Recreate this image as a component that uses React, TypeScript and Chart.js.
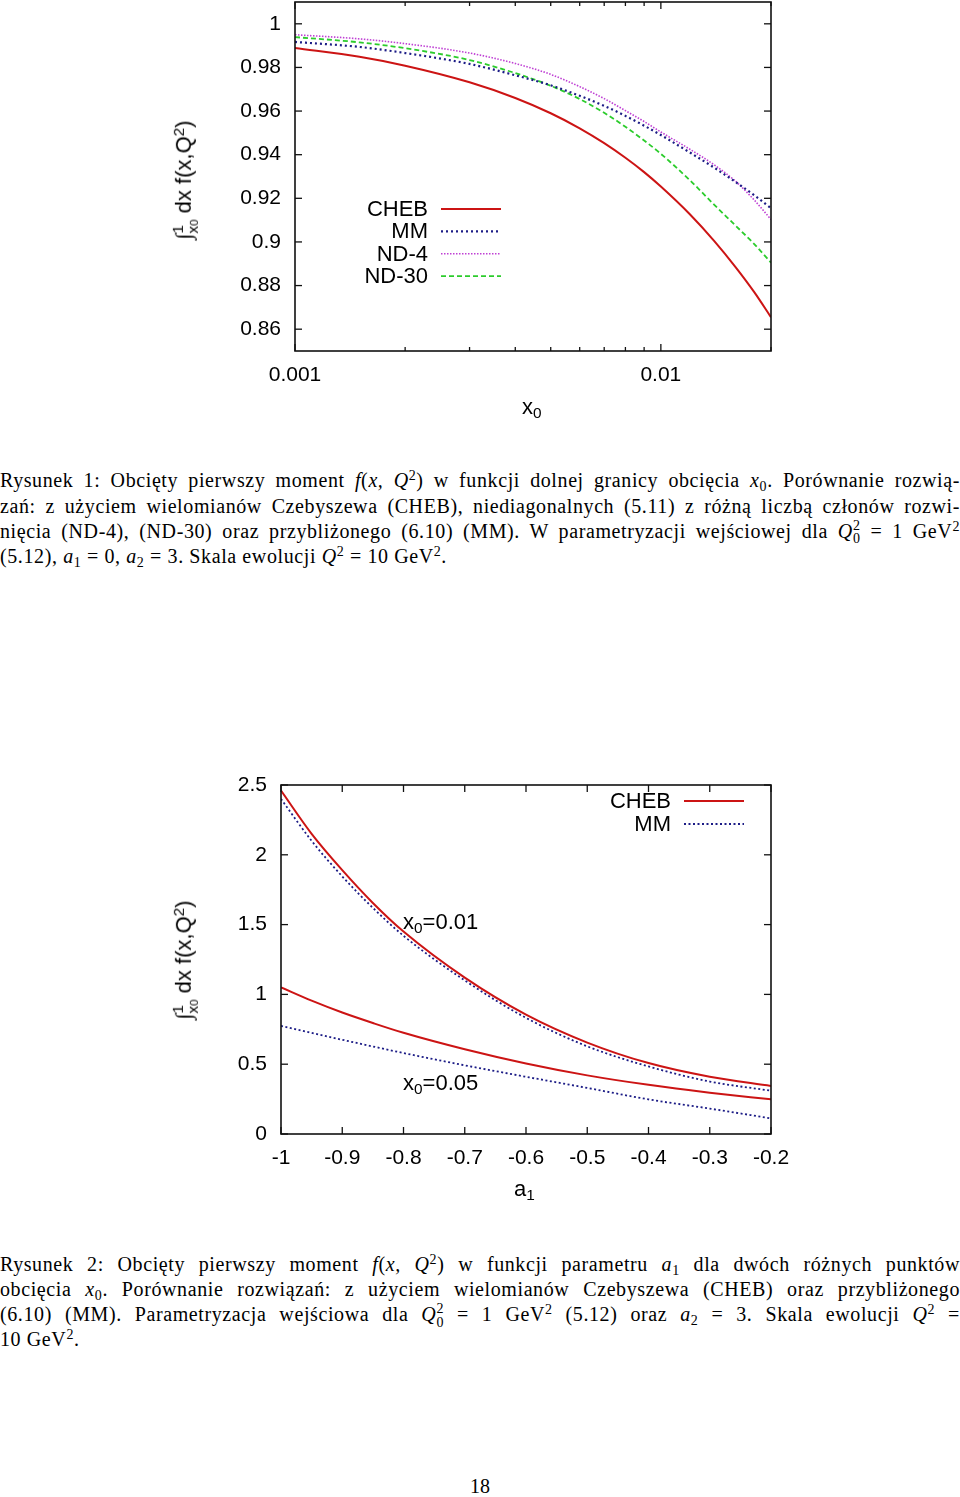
import React, { useEffect, useRef } from 'react';
import Chart from 'chart.js/auto';

// ---------- Figure 1 data ----------
const fig1X = [0.001, 0.0015, 0.002, 0.003, 0.004, 0.005, 0.006, 0.007, 0.008, 0.009, 0.01, 0.012, 0.014, 0.016, 0.018, 0.02];
const fig1Cheb = [0.9889, 0.9849, 0.9808, 0.9732, 0.966, 0.959, 0.9521, 0.9453, 0.9386, 0.932, 0.9254, 0.9127, 0.9004, 0.8885, 0.877, 0.8655];
const fig1MM = [0.9917, 0.9894, 0.9866, 0.9816, 0.9764, 0.9718, 0.967, 0.9624, 0.9578, 0.9533, 0.949, 0.941, 0.934, 0.9275, 0.9214, 0.9155];
const fig1ND4 = [0.995, 0.9931, 0.9909, 0.9866, 0.9818, 0.9768, 0.9712, 0.9657, 0.9602, 0.9552, 0.9504, 0.9425, 0.9353, 0.9278, 0.9192, 0.9103];
const fig1ND30 = [0.9939, 0.9915, 0.9888, 0.9834, 0.9774, 0.9716, 0.9655, 0.9592, 0.9528, 0.9465, 0.9404, 0.9283, 0.917, 0.9075, 0.899, 0.8905];
const fig1SeriesNames = ['CHEB', 'MM', 'ND-4', 'ND-30'];
const fig1XTicks = [0.001, 0.002, 0.003, 0.004, 0.005, 0.006, 0.007, 0.008, 0.009, 0.01, 0.02];
const fig1XMajor = [0.001, 0.01];
const fig1XLabels = ['0.001', '0.01'];
const fig1YTicks = [0.86, 0.88, 0.9, 0.92, 0.94, 0.96, 0.98, 1];
const fig1YLabels = ['0.86', '0.88', '0.9', '0.92', '0.94', '0.96', '0.98', '1'];

// ---------- Figure 2 data ----------
const fig2X = [-1, -0.95, -0.9, -0.85, -0.8, -0.7, -0.6, -0.5, -0.4, -0.3, -0.2];
const fig2Cheb001 = [2.46, 2.15, 1.89, 1.655, 1.45, 1.12, 0.855, 0.655, 0.508, 0.41, 0.344];
const fig2MM001 = [2.4, 2.1, 1.845, 1.62, 1.42, 1.1, 0.832, 0.628, 0.484, 0.376, 0.31];
const fig2Cheb005 = [1.05, 0.955, 0.87, 0.795, 0.725, 0.607, 0.505, 0.42, 0.352, 0.296, 0.248];
const fig2MM005 = [0.775, 0.725, 0.675, 0.627, 0.58, 0.492, 0.41, 0.33, 0.248, 0.182, 0.112];
const fig2SeriesNames = ['CHEB', 'MM'];
const fig2XTicks = [-1, -0.9, -0.8, -0.7, -0.6, -0.5, -0.4, -0.3, -0.2];
const fig2XLabels = ['-1', '-0.9', '-0.8', '-0.7', '-0.6', '-0.5', '-0.4', '-0.3', '-0.2'];
const fig2YTicks = [0, 0.5, 1, 1.5, 2, 2.5];
const fig2YLabels = ['0', '0.5', '1', '1.5', '2', '2.5'];

const RED = '#cc1414';
const BLUE = '#1c1c86';
const MAGENTA = '#bf40d4';
const GREEN = '#2ccc2c';
const SANS = '"Liberation Sans", Arial, sans-serif';
const SERIF = '"Liberation Serif", "Times New Roman", serif';

const pts = (xs: number[], ys: number[]) => xs.map((x, i) => ({ x, y: ys[i] }));

const frameTicks = {
  id: 'frameTicks',
  afterDatasetsDraw(chart: any, _args: any, opts: any) {
    const { ctx, chartArea, scales } = chart;
    const { left, right, top, bottom } = chartArea;
    ctx.save();
    ctx.strokeStyle = '#111';
    ctx.lineWidth = 1.3;
    ctx.setLineDash([]);
    const seg = (x0: number, y0: number, x1: number, y1: number) => {
      ctx.beginPath();
      ctx.moveTo(x0, y0);
      ctx.lineTo(x1, y1);
      ctx.stroke();
    };
    scales.x.ticks.forEach((t: any) => {
      const px = scales.x.getPixelForValue(t.value);
      let len = opts.major;
      if (opts.logX) {
        const l = Math.log10(t.value);
        len = Math.abs(l - Math.round(l)) < 1e-9 ? opts.major : opts.minor;
      }
      seg(px, bottom, px, bottom - len);
      seg(px, top, px, top + len);
    });
    scales.y.ticks.forEach((t: any) => {
      const py = scales.y.getPixelForValue(t.value);
      seg(left, py, left + opts.major, py);
      seg(right, py, right - opts.major, py);
    });
    ctx.lineWidth = 1.6;
    ctx.strokeRect(left, top, right - left, bottom - top);
    ctx.restore();
  },
};

const gpLegend = {
  id: 'gpLegend',
  afterDatasetsDraw(chart: any, _args: any, opts: any) {
    const { ctx } = chart;
    ctx.save();
    ctx.font = opts.font;
    ctx.textAlign = 'right';
    ctx.textBaseline = 'middle';
    ctx.fillStyle = '#000';
    for (let i = 0; i < opts.count; i++) {
      const ds = chart.data.datasets[i];
      const y = opts.y + i * opts.dy;
      ctx.fillText(ds.label, opts.textRight, y + 1);
      ctx.strokeStyle = ds.borderColor;
      ctx.lineWidth = ds.borderWidth;
      ctx.setLineDash(ds.borderDash || []);
      ctx.beginPath();
      ctx.moveTo(opts.x0, y);
      ctx.lineTo(opts.x1, y);
      ctx.stroke();
      ctx.setLineDash([]);
    }
    ctx.restore();
  },
};

const tickFont = { family: SANS, size: 21 };

function Sup({ children }: any) {
  return <sup style={{ fontSize: '0.7em', lineHeight: 0, verticalAlign: '0.5em' }}>{children}</sup>;
}
function Sub({ children }: any) {
  return <sub style={{ fontSize: '0.7em', lineHeight: 0, verticalAlign: '-0.25em' }}>{children}</sub>;
}
function SupSub({ sup, sub }: any) {
  return (
    <span style={{ display: 'inline-flex', flexDirection: 'column', fontSize: '0.7em', lineHeight: '0.95em', verticalAlign: '0.55em' }}>
      <span>{sup}</span>
      <span>{sub}</span>
    </span>
  );
}

function CapLine({ top, justify = true, children }: any) {
  return (
    <div
      style={{
        position: 'absolute',
        left: 0,
        top,
        width: 960,
        height: 25,
        lineHeight: '25px',
        fontFamily: SERIF,
        fontSize: 20,
        letterSpacing: '0.6px',
        color: '#000',
        textAlign: justify ? 'justify' : 'left',
        textAlignLast: justify ? 'justify' : 'left',
      } as any}
    >
      {children}
    </div>
  );
}

function YTitle({ cx, cy }: any) {
  return (
    <div
      style={{
        position: 'absolute',
        left: cx,
        top: cy,
        transform: 'translate(-50%, -50%) rotate(-90deg)',
        whiteSpace: 'nowrap',
        fontFamily: SANS,
        fontSize: 22,
        lineHeight: '26px',
        color: '#000',
      }}
    >
      <span style={{ fontFamily: SERIF }}>∫</span>
      <SupSub sup="1" sub={<span>x<span style={{ fontSize: '0.75em' }}>0</span></span>} /> dx f(x,Q<Sup>2</Sup>)
    </div>
  );
}

function Label({ left, top, children, size = 22 }: any) {
  return (
    <div style={{ position: 'absolute', left, top, whiteSpace: 'nowrap', fontFamily: SANS, fontSize: size, lineHeight: '26px', color: '#000' }}>
      {children}
    </div>
  );
}

const yFit = (w: number) => (s: any) => {
  s.width = w;
  s.paddingTop = 0;
  s.paddingBottom = 0;
};
const xFit = (h: number) => (s: any) => {
  s.height = h;
  s.paddingLeft = 0;
  s.paddingRight = 0;
};

export default function App() {
  const c1 = useRef<HTMLCanvasElement>(null);
  const c2 = useRef<HTMLCanvasElement>(null);

  useEffect(() => {
    const ch1 = new Chart(c1.current as HTMLCanvasElement, {
      type: 'line',
      data: {
        datasets: [
          { label: fig1SeriesNames[0], data: pts(fig1X, fig1Cheb), borderColor: RED, borderWidth: 2, borderDash: [] },
          { label: fig1SeriesNames[1], data: pts(fig1X, fig1MM), borderColor: BLUE, borderWidth: 2.2, borderDash: [2, 3] },
          { label: fig1SeriesNames[2], data: pts(fig1X, fig1ND4), borderColor: MAGENTA, borderWidth: 1.6, borderDash: [1.5, 1.5] },
          { label: fig1SeriesNames[3], data: pts(fig1X, fig1ND30), borderColor: GREEN, borderWidth: 1.8, borderDash: [5, 3] },
        ] as any,
      },
      options: {
        responsive: false,
        animation: false,
        devicePixelRatio: 1,
        layout: { padding: { top: 2, right: 960 - 771, left: 0, bottom: 0 } },
        elements: { point: { radius: 0 }, line: { cubicInterpolationMode: 'monotone', borderCapStyle: 'butt' } },
        plugins: {
          legend: { display: false },
          tooltip: { enabled: false },
          frameTicks: { major: 7, minor: 4, logX: true },
          gpLegend: { font: `22px ${SANS}`, count: 4, textRight: 428, y: 209, dy: 22.4, x0: 441, x1: 501 },
        } as any,
        scales: {
          x: {
            type: 'logarithmic',
            min: 0.001,
            max: 0.02,
            grid: { display: false, drawTicks: false },
            border: { display: false },
            afterBuildTicks: (s: any) => { s.ticks = fig1XTicks.map((v) => ({ value: v })); },
            afterFit: xFit(440 - 351),
            ticks: {
              autoSkip: false,
              maxRotation: 0,
              padding: 12,
              color: '#000',
              font: tickFont,
              callback: (v: any) => {
                const i = fig1XMajor.indexOf(v);
                return i >= 0 ? fig1XLabels[i] : '';
              },
            },
          },
          y: {
            type: 'linear',
            min: 0.85,
            max: 1.01,
            grid: { display: false, drawTicks: false },
            border: { display: false },
            afterBuildTicks: (s: any) => { s.ticks = fig1YTicks.map((v) => ({ value: v })); },
            afterFit: yFit(295),
            ticks: {
              padding: 14,
              color: '#000',
              font: tickFont,
              callback: (v: any) => {
                const i = fig1YTicks.indexOf(v);
                return i >= 0 ? fig1YLabels[i] : '';
              },
            },
          },
        },
      } as any,
      plugins: [frameTicks, gpLegend],
    });

    const ch2 = new Chart(c2.current as HTMLCanvasElement, {
      type: 'line',
      data: {
        datasets: [
          { label: fig2SeriesNames[0], data: pts(fig2X, fig2Cheb001), borderColor: RED, borderWidth: 2, borderDash: [] },
          { label: fig2SeriesNames[1], data: pts(fig2X, fig2MM001), borderColor: BLUE, borderWidth: 1.8, borderDash: [2, 2.5] },
          { label: fig2SeriesNames[0], data: pts(fig2X, fig2Cheb005), borderColor: RED, borderWidth: 2, borderDash: [] },
          { label: fig2SeriesNames[1], data: pts(fig2X, fig2MM005), borderColor: BLUE, borderWidth: 1.8, borderDash: [2, 2.5] },
        ] as any,
      },
      options: {
        responsive: false,
        animation: false,
        devicePixelRatio: 1,
        layout: { padding: { top: 25, right: 960 - 771, left: 0, bottom: 0 } },
        elements: { point: { radius: 0 }, line: { cubicInterpolationMode: 'monotone', borderCapStyle: 'butt' } },
        plugins: {
          legend: { display: false },
          tooltip: { enabled: false },
          frameTicks: { major: 7, minor: 4, logX: false },
          gpLegend: { font: `22px ${SANS}`, count: 2, textRight: 671, y: 41, dy: 23, x0: 684, x1: 744 },
        } as any,
        scales: {
          x: {
            type: 'linear',
            min: -1,
            max: -0.2,
            grid: { display: false, drawTicks: false },
            border: { display: false },
            afterBuildTicks: (s: any) => { s.ticks = fig2XTicks.map((v) => ({ value: v })); },
            afterFit: xFit(1230 - 1134),
            ticks: {
              autoSkip: false,
              maxRotation: 0,
              padding: 12,
              color: '#000',
              font: tickFont,
              callback: (v: any) => {
                const i = fig2XTicks.indexOf(v);
                return i >= 0 ? fig2XLabels[i] : '';
              },
            },
          },
          y: {
            type: 'linear',
            min: 0,
            max: 2.5,
            grid: { display: false, drawTicks: false },
            border: { display: false },
            afterBuildTicks: (s: any) => { s.ticks = fig2YTicks.map((v) => ({ value: v })); },
            afterFit: yFit(281),
            ticks: {
              padding: 14,
              color: '#000',
              font: tickFont,
              callback: (v: any) => {
                const i = fig2YTicks.indexOf(v);
                return i >= 0 ? fig2YLabels[i] : '';
              },
            },
          },
        },
      } as any,
      plugins: [frameTicks, gpLegend],
    });

    return () => {
      ch1.destroy();
      ch2.destroy();
    };
  }, []);

  return (
    <div style={{ position: 'absolute', left: 0, top: 0, width: 960, height: 1497, background: '#fff', overflow: 'hidden' }}>
      <canvas ref={c1} width={960} height={440} style={{ position: 'absolute', left: 0, top: 0, width: 960, height: 440 }} />
      <canvas ref={c2} width={960} height={470} style={{ position: 'absolute', left: 0, top: 760, width: 960, height: 470 }} />

      <YTitle cx={186} cy={180} />
      <Label left={522} top={394}>x<Sub>0</Sub></Label>

      <YTitle cx={186} cy={960} />
      <Label left={514} top={1176}>a<Sub>1</Sub></Label>
      <Label left={403} top={909}>x<Sub>0</Sub>=0.01</Label>
      <Label left={403} top={1070}>x<Sub>0</Sub>=0.05</Label>

      <CapLine top={468}>
        Rysunek 1: Obcięty pierwszy moment <i>f</i>(<i>x, Q</i><Sup>2</Sup>) w funkcji dolnej granicy obcięcia <i>x</i><Sub>0</Sub>. Porównanie rozwią-
      </CapLine>
      <CapLine top={493.5}>
        zań: z użyciem wielomianów Czebyszewa (CHEB), niediagonalnych (5.11) z różną liczbą członów rozwi-
      </CapLine>
      <CapLine top={518.5}>
        nięcia (ND-4), (ND-30) oraz przybliżonego (6.10) (MM). W parametryzacji wejściowej dla <i>Q</i><SupSub sup="2" sub="0" /> = 1 GeV<Sup>2</Sup>
      </CapLine>
      <CapLine top={544} justify={false}>
        (5.12), <i>a</i><Sub>1</Sub> = 0, <i>a</i><Sub>2</Sub> = 3. Skala ewolucji <i>Q</i><Sup>2</Sup> = 10 GeV<Sup>2</Sup>.
      </CapLine>

      <CapLine top={1251.5}>
        Rysunek 2: Obcięty pierwszy moment <i>f</i>(<i>x, Q</i><Sup>2</Sup>) w funkcji parametru <i>a</i><Sub>1</Sub> dla dwóch różnych punktów
      </CapLine>
      <CapLine top={1277}>
        obcięcia <i>x</i><Sub>0</Sub>. Porównanie rozwiązań: z użyciem wielomianów Czebyszewa (CHEB) oraz przybliżonego
      </CapLine>
      <CapLine top={1302}>
        (6.10) (MM). Parametryzacja wejściowa dla <i>Q</i><SupSub sup="2" sub="0" /> = 1 GeV<Sup>2</Sup> (5.12) oraz <i>a</i><Sub>2</Sub> = 3. Skala ewolucji <i>Q</i><Sup>2</Sup> =
      </CapLine>
      <CapLine top={1326.5} justify={false}>
        10 GeV<Sup>2</Sup>.
      </CapLine>

      <div style={{ position: 'absolute', left: 0, top: 1474, width: 960, textAlign: 'center', fontFamily: SERIF, fontSize: 20, lineHeight: '25px', color: '#000' }}>
        18
      </div>
    </div>
  );
}
